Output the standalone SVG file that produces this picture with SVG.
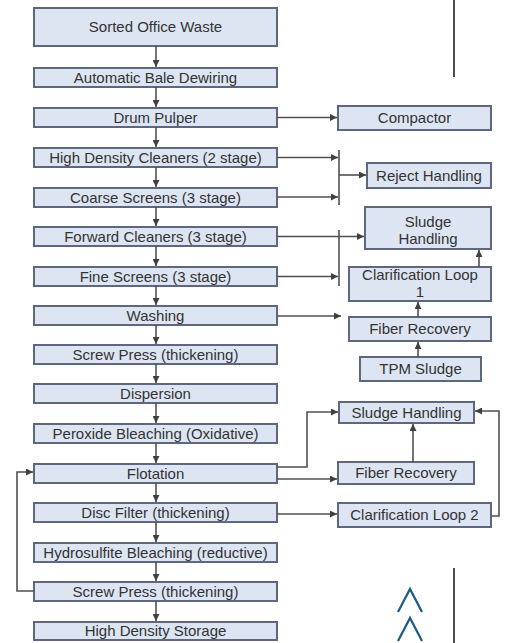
<svg xmlns="http://www.w3.org/2000/svg" width="507" height="643" viewBox="0 0 507 643">
<style>
.box{fill:#dde5f3;stroke:#5f6780;stroke-width:2}
.t{font-family:"Liberation Sans",Arial,sans-serif;font-size:15px;fill:#333;text-anchor:middle}
.c{fill:none;stroke:#505050;stroke-width:1.6}
.deco{fill:none;stroke:#111;stroke-width:1.5}
.chev{fill:none;stroke:#1d5a86;stroke-width:2.2}
</style>
<defs>
<marker id="ah" viewBox="0 0 10 10" refX="10" refY="5" markerWidth="7" markerHeight="7" markerUnits="userSpaceOnUse" orient="auto">
<path d="M0,0 L10,5 L0,10 z" fill="#404040"/>
</marker>
</defs>
<rect width="507" height="643" fill="#fff"/>
<g id="n1"><rect class="box" x="34" y="8" width="243" height="38"/><text class="t" x="155.5" y="32">Sorted Office Waste</text></g>
<g id="n2"><rect class="box" x="34" y="68" width="243" height="19"/><text class="t" x="155.5" y="82.5">Automatic Bale Dewiring</text></g>
<g id="n3"><rect class="box" x="34" y="108" width="243" height="19"/><text class="t" x="155.5" y="122.5">Drum Pulper</text></g>
<g id="n4"><rect class="box" x="34" y="148" width="243" height="19"/><text class="t" x="155.5" y="162.5">High Density Cleaners (2 stage)</text></g>
<g id="n5"><rect class="box" x="34" y="188" width="243" height="19"/><text class="t" x="155.5" y="202.5">Coarse Screens (3 stage)</text></g>
<g id="n6"><rect class="box" x="34" y="227" width="243" height="19"/><text class="t" x="155.5" y="241.5">Forward Cleaners (3 stage)</text></g>
<g id="n7"><rect class="box" x="34" y="267" width="243" height="19"/><text class="t" x="155.5" y="281.5">Fine Screens (3 stage)</text></g>
<g id="n8"><rect class="box" x="34" y="306" width="243" height="19"/><text class="t" x="155.5" y="320.5">Washing</text></g>
<g id="n9"><rect class="box" x="34" y="345" width="243" height="19"/><text class="t" x="155.5" y="359.5">Screw Press (thickening)</text></g>
<g id="n10"><rect class="box" x="34" y="384" width="243" height="19"/><text class="t" x="155.5" y="398.5">Dispersion</text></g>
<g id="n11"><rect class="box" x="34" y="424" width="243" height="19"/><text class="t" x="155.5" y="438.5">Peroxide Bleaching (Oxidative)</text></g>
<g id="n12"><rect class="box" x="34" y="464" width="243" height="19"/><text class="t" x="155.5" y="478.5">Flotation</text></g>
<g id="n13"><rect class="box" x="34" y="503" width="243" height="19"/><text class="t" x="155.5" y="517.5">Disc Filter (thickening)</text></g>
<g id="n14"><rect class="box" x="34" y="543" width="243" height="19"/><text class="t" x="155.5" y="557.5">Hydrosulfite Bleaching (reductive)</text></g>
<g id="n15"><rect class="box" x="34" y="582" width="243" height="19"/><text class="t" x="155.5" y="596.5">Screw Press (thickening)</text></g>
<g id="n16"><rect class="box" x="34" y="622" width="243" height="18"/><text class="t" x="155.5" y="636">High Density Storage</text></g>
<g id="compactor"><rect class="box" x="338" y="106" width="153" height="24"/><text class="t" x="414.5" y="123">Compactor</text></g>
<g id="reject"><rect class="box" x="367" y="163" width="124" height="25"/><text class="t" x="429" y="180.5">Reject Handling</text></g>
<g id="sludge1"><rect class="box" x="365" y="207" width="126" height="42"/><text class="t" x="428" y="227">Sludge</text><text class="t" x="428" y="244">Handling</text></g>
<g id="clar1"><rect class="box" x="349" y="267" width="142" height="34"/><text class="t" x="420" y="280">Clarification Loop</text><text class="t" x="420" y="297">1</text></g>
<g id="fiber1"><rect class="box" x="349" y="317" width="142" height="24"/><text class="t" x="420" y="334">Fiber Recovery</text></g>
<g id="tpm"><rect class="box" x="360" y="357" width="121" height="24"/><text class="t" x="420.5" y="374">TPM Sludge</text></g>
<g id="sludge2"><rect class="box" x="339" y="402" width="135" height="21"/><text class="t" x="406.5" y="417.5">Sludge Handling</text></g>
<g id="fiber2"><rect class="box" x="338" y="462" width="136" height="22"/><text class="t" x="406" y="478">Fiber Recovery</text></g>
<g id="clar2"><rect class="box" x="338" y="503" width="153" height="24"/><text class="t" x="414.5" y="520">Clarification Loop 2</text></g>
<g id="connectors">
<line class="c" x1="156" y1="46" x2="156" y2="67" marker-end="url(#ah)"/>
<line class="c" x1="156" y1="87" x2="156" y2="107" marker-end="url(#ah)"/>
<line class="c" x1="156" y1="127" x2="156" y2="147" marker-end="url(#ah)"/>
<line class="c" x1="156" y1="167" x2="156" y2="187" marker-end="url(#ah)"/>
<line class="c" x1="156" y1="207" x2="156" y2="226" marker-end="url(#ah)"/>
<line class="c" x1="156" y1="246" x2="156" y2="266" marker-end="url(#ah)"/>
<line class="c" x1="156" y1="286" x2="156" y2="305" marker-end="url(#ah)"/>
<line class="c" x1="156" y1="325" x2="156" y2="344" marker-end="url(#ah)"/>
<line class="c" x1="156" y1="364" x2="156" y2="383" marker-end="url(#ah)"/>
<line class="c" x1="156" y1="403" x2="156" y2="423" marker-end="url(#ah)"/>
<line class="c" x1="156" y1="443" x2="156" y2="463" marker-end="url(#ah)"/>
<line class="c" x1="156" y1="483" x2="156" y2="502" marker-end="url(#ah)"/>
<line class="c" x1="156" y1="522" x2="156" y2="542" marker-end="url(#ah)"/>
<line class="c" x1="156" y1="562" x2="156" y2="581" marker-end="url(#ah)"/>
<line class="c" x1="156" y1="601" x2="156" y2="621" marker-end="url(#ah)"/>
<line class="c" x1="277" y1="117.5" x2="337" y2="117.5" marker-end="url(#ah)"/>
<line class="c" x1="277" y1="157.5" x2="338" y2="157.5" marker-end="url(#ah)"/>
<line class="c" x1="277" y1="197" x2="338" y2="197" marker-end="url(#ah)"/>
<line class="c" x1="339" y1="150" x2="339" y2="205"/>
<line class="c" x1="339" y1="175" x2="366" y2="175" marker-end="url(#ah)"/>
<line class="c" x1="277" y1="236.5" x2="364" y2="236.5" marker-end="url(#ah)"/>
<line class="c" x1="277" y1="276.5" x2="338" y2="276.5" marker-end="url(#ah)"/>
<line class="c" x1="339" y1="230" x2="339" y2="286"/>
<line class="c" x1="277" y1="316" x2="341" y2="316" marker-end="url(#ah)"/>
<line class="c" x1="479" y1="267" x2="479" y2="250" marker-end="url(#ah)"/>
<line class="c" x1="418" y1="317" x2="418" y2="302" marker-end="url(#ah)"/>
<line class="c" x1="418" y1="357" x2="418" y2="342" marker-end="url(#ah)"/>
<polyline class="c" points="277,467 307,467 307,412 338,412" marker-end="url(#ah)"/>
<line class="c" x1="277" y1="479" x2="337" y2="479" marker-end="url(#ah)"/>
<line class="c" x1="413" y1="462" x2="413" y2="424" marker-end="url(#ah)"/>
<polyline class="c" points="491,516 499,516 499,411 475,411" marker-end="url(#ah)"/>
<line class="c" x1="277" y1="514" x2="337" y2="514" marker-end="url(#ah)"/>
<polyline class="c" points="34,591 17,591 17,472 33,472" marker-end="url(#ah)"/>
</g>
<line class="deco" x1="454" y1="0" x2="454" y2="77"/>
<line class="deco" x1="454" y1="568" x2="454" y2="643"/>
<polyline class="chev" points="398,612 410,589 422,612"/>
<polyline class="chev" points="398,641 410,618 422,641"/>
</svg>
